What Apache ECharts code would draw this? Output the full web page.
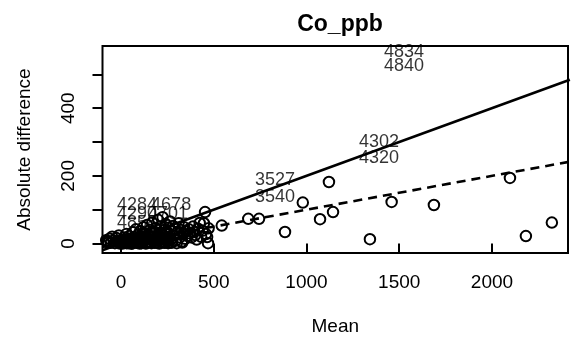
<!DOCTYPE html>
<html>
<head>
<meta charset="utf-8">
<script src="https://cdn.jsdelivr.net/npm/echarts@6/dist/echarts.min.js"></script>
<style>
  html, body { margin: 0; padding: 0; background: #ffffff; }
  #chart { width: 572px; height: 347px; }
</style>
</head>
<body>
<div id="chart"></div>
<script>
// Axis ticks and labels
const xTicks = [0, 500, 1000, 1500, 2000];
const yTicks = [0, 100, 200, 300, 400, 500];
const yTickLabels = [0, 200, 400];

// Mean of paired measurements and their absolute difference (Co, ppb)
const meanVals = [
  -75, -62, -55, -48, -40, -33, -25, -18, -12, -6,
  0, 4, 8, 12, 16, 20, 24, 28, 32, 36, 40, 44, 48, 52, 56, 60,
  64, 68, 72, 76, 80, 84, 88, 92, 96, 100, 104, 108, 112, 116, 120,
  124, 128, 132, 136, 140, 144, 148, 152, 156, 160, 164, 168, 172, 176, 180, 184, 188, 192, 196, 200,
  204, 208, 212, 216, 220, 224, 228, 232, 236, 240, 244, 248, 252, 256, 260, 264, 268, 272, 276, 280,
  286, 292, 298, 304, 310, 316, 322, 328, 334, 340, 346, 352, 358,
  366, 372, 380, 388, 395, 400, 408, 415, 424, 432, 440, 447, 453, 458, 464, 469, 472,
  30, 58, 86, 110, 134, 158, 182, 206, 230, 254, 18, 46, 74, 98, 126, 150, 174, 198, 222, 246,
  -80, -68, 270, 300, 330, 175, 145, 115, 95, 190,
  543, 686, 744, 884, 980, 1073, 1121, 1143, 1342, 1459, 1687, 2097, 2183, 2323
];
const diffVals = [
  6, 14, 2, 20, 9, 1, 16, 5, 24, 0,
  3, 11, 0, 7, 18, 2, 9, 28, 4, 13, 1, 22, 6, 15, 0, 10,
  33, 4, 19, 8, 42, 2, 14, 26, 6, 0, 37, 11, 21, 3, 48,
  9, 16, 30, 2, 55, 12, 24, 5, 40, 18, 1, 62, 28, 8, 35, 14, 45, 3, 22, 70,
  10, 32, 50, 6, 26, 78, 15, 40, 2, 58, 20, 34, 8, 47, 28, 65, 12, 38, 4, 52,
  24, 44, 10, 33, 60, 18, 40, 6, 28, 48, 14, 36, 22,
  42, 30, 18, 50, 34, 25, 12, 44, 61, 20, 38, 60, 93, 28, 19, 1, 45,
  1, 0, 3, 1, 0, 4, 2, 0, 3, 1, 8, 5, 10, 7, 12, 6, 9, 11, 5, 8,
  10, 3, 2, 1, 3, 20, 26, 30, 17, 9,
  53, 73, 73, 34, 121, 72, 182, 93, 13, 123, 114, 194, 22, 62
];

// Reference limits: 20 % and 10 % of the mean
const limitMean = [-100, 2420];
const limit20 = [-20, 484];
const limit10 = [-10, 242];

// Sample identifiers written on the plot
const idText = ['4834', '4840', '4302', '4320', '3527', '3540', '4284', '4678', '4290', '4701', '4858'];
const idMean = [1526, 1526, 1391, 1391, 830, 830, 86, 270, 86, 253, 86];
const idDiff = [567, 525, 301, 252, 188, 138, 114, 114, 87, 87, 62];

const FONT = '"Liberation Sans", Arial, Helvetica, sans-serif';
const INK = '#000000';

const points = meanVals.map((m, i) => [m, diffVals[i]]);
const pairs = (xs, ys) => xs.map((x, i) => [x, ys[i]]);
const ids = idText.map((t, i) => ({ name: t, value: [idMean[i], idDiff[i]] }));
const plain = v => String(v);

const chart = echarts.init(document.getElementById('chart'), null, { renderer: 'canvas' });
chart.setOption({
  backgroundColor: '#ffffff',
  animation: false,
  title: {
    text: 'Co_ppb',
    left: 335,
    top: 8,
    textAlign: 'center',
    textStyle: { fontFamily: FONT, fontSize: 23, fontWeight: 'bold', color: INK }
  },
  grid: {
    left: 102.5, right: 4, top: 46, bottom: 94,
    show: true, borderColor: INK, borderWidth: 2, backgroundColor: 'transparent'
  },
  xAxis: {
    type: 'value',
    position: 'bottom',
    min: -100, max: 2410,
    name: 'Mean',
    nameLocation: 'middle',
    nameGap: 64,
    nameTextStyle: { fontFamily: FONT, fontSize: 19, color: INK },
    axisLine: { show: false },
    splitLine: { show: false },
    axisTick: { show: true, inside: false, length: 10, customValues: xTicks, lineStyle: { color: INK, width: 2 } },
    axisLabel: { customValues: xTicks, formatter: plain, margin: 20, fontFamily: FONT, fontSize: 19, color: INK }
  },
  yAxis: {
    type: 'value',
    position: 'left',
    min: -28, max: 584,
    name: 'Absolute difference',
    nameLocation: 'middle',
    nameGap: 68,
    nameRotate: 90,
    nameTextStyle: { fontFamily: FONT, fontSize: 19, color: INK },
    axisLine: { show: false, onZero: false },
    splitLine: { show: false },
    axisTick: { show: true, inside: false, length: 10, customValues: yTicks, lineStyle: { color: INK, width: 2 } },
    axisLabel: { customValues: yTickLabels, formatter: plain, rotate: 90, margin: 24, fontFamily: FONT, fontSize: 19, color: INK }
  },
  series: [
    {
      type: 'scatter',
      data: points,
      symbol: 'circle',
      symbolSize: 10.5,
      itemStyle: { color: 'rgba(255,255,255,0)', borderColor: INK, borderWidth: 2, opacity: 1 },
      z: 2
    },
    {
      type: 'line',
      data: pairs(limitMean, limit20),
      showSymbol: false,
      lineStyle: { color: INK, width: 2.6, type: 'solid' },
      z: 3
    },
    {
      type: 'line',
      data: pairs(limitMean, limit10),
      showSymbol: false,
      lineStyle: { color: INK, width: 2.6, type: [9, 6] },
      z: 3
    },
    {
      type: 'scatter',
      data: ids,
      symbol: 'circle',
      symbolSize: 1,
      itemStyle: { color: 'rgba(0,0,0,0)' },
      label: {
        show: true,
        position: 'inside',
        formatter: p => p.name,
        fontFamily: FONT,
        fontSize: 18,
        color: INK,
        textBorderWidth: 0
      },
      z: 4
    }
  ]
});
</script>
</body>
</html>
